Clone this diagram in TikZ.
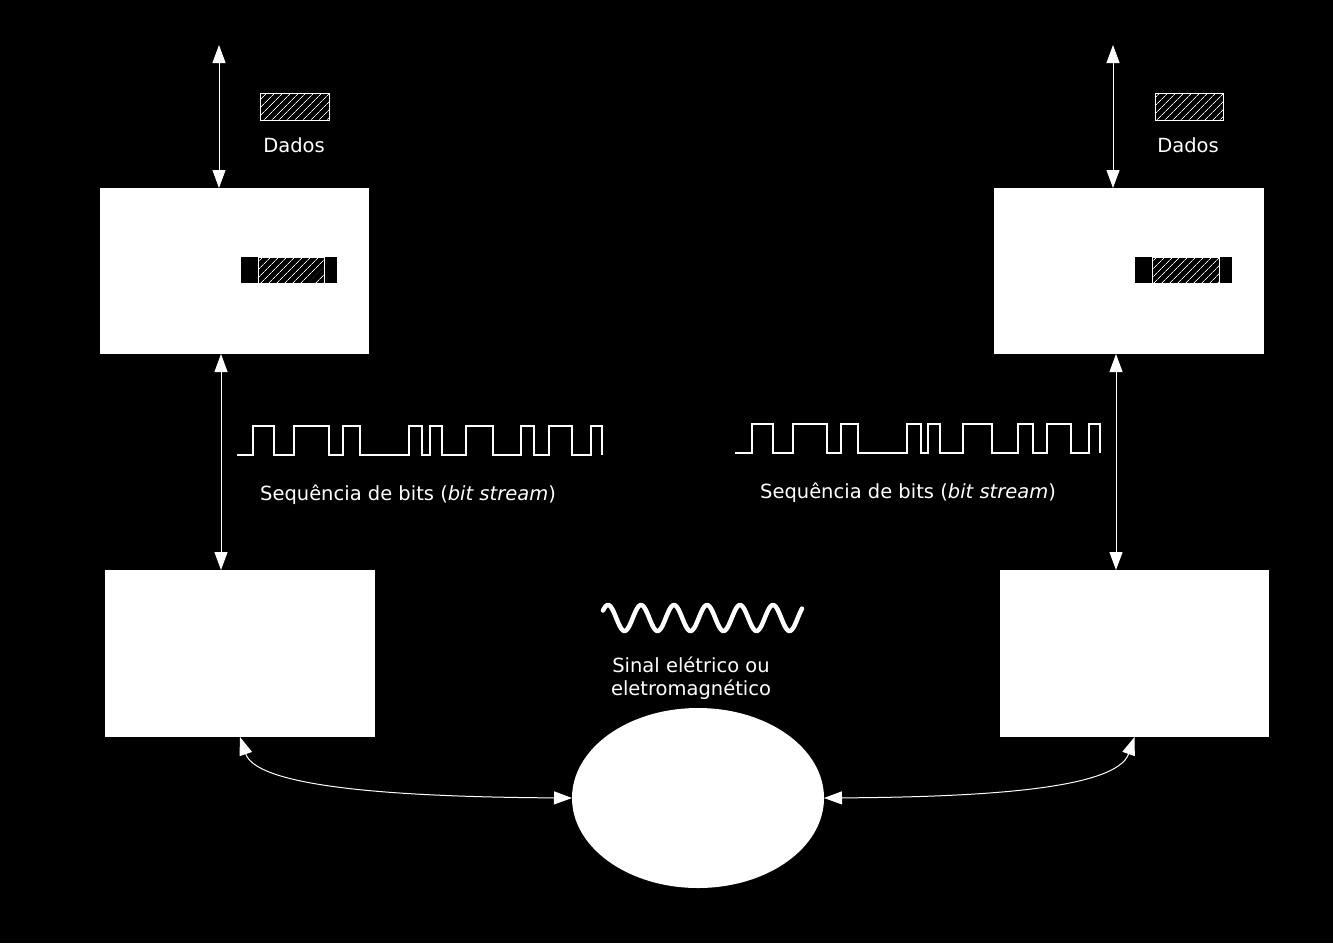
\documentclass[tikz,border=0pt]{standalone}
\usepackage{fontspec}
\setmainfont{DejaVu Sans}
\usetikzlibrary{arrows.meta,shapes.geometric,patterns.meta}
\begin{document}
\begin{tikzpicture}[x=1pt,y=-1pt,
  layerbox/.style={fill=white,inner sep=0pt,outer sep=0pt},
  medium/.style={ellipse,fill=white,inner sep=0pt,outer sep=0pt,minimum width=252pt,minimum height=180pt},
  hatchbox/.style={draw=white,line width=0.8pt,inner sep=0pt,outer sep=0pt,
     pattern={Lines[angle=45,distance=5.4pt,line width=0.7pt]},pattern color=white},
  blackbar/.style={fill=black,inner sep=0pt,outer sep=0pt},
  lbl/.style={text=white,font=\fontsize{19.5}{23}\selectfont,inner sep=0pt},
  link/.style={draw=white,line width=1pt,{Triangle[length=18pt,width=13pt]}-{Triangle[length=18pt,width=13pt]}},
  bitline/.style={draw=white,line width=1.1pt},
  wave/.style={draw=white,line width=4.5pt,line cap=round,line join=round}]
\fill[black] (0,0) rectangle (1333,943);
\useasboundingbox (0,0) rectangle (1333,943);

% layer boxes
\node[layerbox,minimum width=269pt,minimum height=166pt] (tl) at (234.5,271) {};
\node[layerbox,minimum width=270pt,minimum height=166pt] (tr) at (1129,271) {};
\node[layerbox,minimum width=270pt,minimum height=167pt] (bl) at (240,653.5) {};
\node[layerbox,minimum width=269pt,minimum height=167pt] (br) at (1134.5,653.5) {};
\node[medium] (el) at (698,798) {};

% data blocks
\node[hatchbox,minimum width=69pt,minimum height=27pt] (dl) at (294.5,106.5) {};
\node[lbl] (dlt) at (294,145) {Dados};
\node[hatchbox,minimum width=68pt,minimum height=27pt] (dr) at (1189,106.5) {};
\node[lbl] (drt) at (1188,145) {Dados};

\node[blackbar,minimum width=96pt,minimum height=26pt] (bbl) at (289,270) {};
\node[hatchbox,minimum width=66pt,minimum height=26pt] (hbl) at (291,270) {};
\node[blackbar,minimum width=97pt,minimum height=26pt] (bbr) at (1183.5,270) {};
\node[hatchbox,minimum width=67pt,minimum height=26pt] (hbr) at (1185.5,270) {};

% vertical connectors
\coordinate (topl) at (219,45);
\coordinate (topr) at (1113,45);
\draw[link] (topl) -- (tl.north -| topl);
\draw[link] (topr) -- (tr.north -| topr);
\draw[link] ([xshift=-13.5pt]tl.south) -- ([xshift=-19pt]bl.north);
\draw[link] ([xshift=-13pt]tr.south) -- ([xshift=-18.5pt]br.north);

% curved connectors
\draw[link] (bl.south) .. controls (258,790) and (420,797) .. (el.west);
\draw[link] (br.south) .. controls (1116,790) and (976,797) .. (el.east);

% bit streams
\draw[bitline] (237,455) -- (253,455) -- (253,426) -- (274,426) -- (274,455) -- (294,455) -- (294,426) -- (329,426) -- (329,455) -- (343,455) -- (343,426) -- (360,426) -- (360,455) -- (409,455) -- (409,426) -- (422,426) -- (422,455) -- (430,455) -- (430,426) -- (442,426) -- (442,455) -- (466,455) -- (466,426) -- (493,426) -- (493,455) -- (521,455) -- (521,426) -- (534,426) -- (534,455) -- (549,455) -- (549,426) -- (572,426) -- (572,455) -- (591,455) -- (591,426) -- (602,426) -- (602,455);
\draw[bitline] (735,453) -- (752,453) -- (752,424) -- (773,424) -- (773,453) -- (793,453) -- (793,424) -- (827,424) -- (827,453) -- (841,453) -- (841,424) -- (858,424) -- (858,453) -- (907,453) -- (907,424) -- (921,424) -- (921,453) -- (928,453) -- (928,424) -- (940,424) -- (940,453) -- (963,453) -- (963,424) -- (992,424) -- (992,453) -- (1018,453) -- (1018,424) -- (1033,424) -- (1033,453) -- (1047,453) -- (1047,424) -- (1071,424) -- (1071,453) -- (1089,453) -- (1089,424) -- (1100,424) -- (1100,453);

\node[lbl] (sl) at (408,495) {Sequência de bits (\textit{bit stream})};
\node[lbl] (sr) at (908,493) {Sequência de bits (\textit{bit stream})};

% signal
\draw[wave] plot[domain=603:802,samples=200,smooth] (\x,{618-13*sin((\x-599.75)/33*360)});
\node[lbl,align=center] (sig) at (691,678) {Sinal elétrico ou\\eletromagnético};
\end{tikzpicture}
\end{document}
